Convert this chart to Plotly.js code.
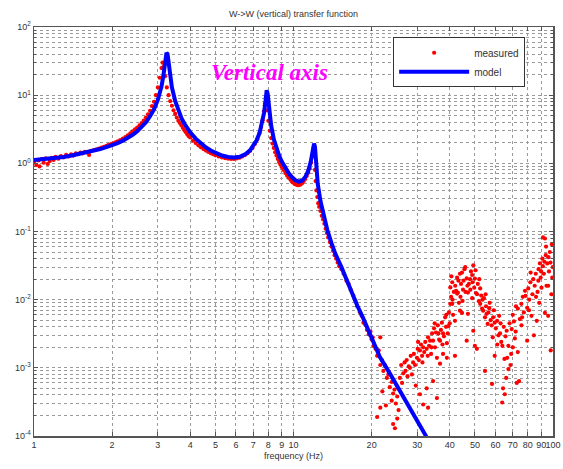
<!DOCTYPE html>
<html>
<head>
<meta charset="utf-8">
<script src="https://cdn.plot.ly/plotly-3.0.1.min.js"></script>
<style>html,body{margin:0;padding:0;background:#fff;}#chart{width:563px;height:469px;}</style>
</head>
<body>
<div id="chart"></div>
<script>
// ---- data ----
const modelFreq = [1.0,1.1,1.2,1.3,1.4,1.5,1.6,1.7,1.8,1.9,
  2.0,2.1,2.2,2.3,2.4,2.5,2.6,2.7,2.8,2.9,
  3.0,3.05,3.1,3.15,3.2,3.24,3.27,3.3,3.35,3.4,
  3.5,3.6,3.7,3.8,3.9,4.0,
  4.2,4.4,4.6,4.8,5.0,
  5.3,5.6,5.9,6.2,6.5,6.8,7.0,7.2,7.4,7.55,
  7.7,7.8,7.88,7.95,8.05,8.2,8.4,8.6,8.8,9.0,
  9.3,9.6,9.9,10.2,10.5,10.8,11.1,11.4,11.65,11.85,
  12.0,12.1,12.2,12.4,12.7,13.0,13.5,14.0,14.5,15.3,
  16.0,17.0,17.6,18.5,19.5,20.2,21.5,23.5,25.5,27.3,
  30.0,32.3,34.0];
const modelMag = [1.12,1.15,1.19,1.24,1.30,1.37,1.44,1.52,1.62,1.73,
  1.84,1.98,2.15,2.36,2.62,2.96,3.4,4.0,4.9,6.2,
  8.5,10.3,13.5,19,30,42,40,30,19,13,
  8.2,5.9,4.6,3.8,3.25,2.85,
  2.3,1.95,1.71,1.54,1.42,
  1.30,1.24,1.22,1.25,1.35,1.55,1.78,2.15,2.8,3.7,
  5.5,8,11.8,10.5,6.5,3.6,2.25,1.65,1.3,1.07,
  0.85,0.71,0.62,0.56,0.54,0.56,0.63,0.78,1.05,1.5,
  1.95,1.75,1.0,0.5,0.28,0.19,0.105,0.068,0.047,0.030,
  0.0195,0.0115,0.0082,0.0055,0.0035,0.0024,0.00145,0.00083,0.00049,0.00030,
  0.000165,0.000102,0.00007];

const measFreq = [
  1.00,1.02,1.04,1.05,1.07,1.09,1.11,1.13,1.15,1.17,
  1.19,1.21,1.24,1.27,1.30,1.33,1.36,1.39,1.42,1.45,
  1.48,1.51,1.54,1.57,1.60,1.63,1.66,1.70,1.74,1.78,
  1.82,1.86,1.90,1.94,1.98,2.02,2.06,2.10,2.15,2.20,
  2.25,2.30,2.35,2.40,2.45,2.50,2.55,2.60,2.65,2.70,
  2.75,2.80,2.85,2.90,2.95,3.00,3.05,3.10,3.13,3.16,
  3.20,3.25,3.30,3.35,3.40,3.45,3.50,3.55,3.60,3.65,
  3.70,3.75,3.80,3.85,3.90,3.95,4.00,4.10,4.20,4.30,
  4.40,4.50,4.60,4.70,4.80,4.90,5.00,5.15,5.30,5.45,
  5.60,5.75,5.90,6.05,6.20,6.35,6.50,6.65,6.80,6.95,
  7.10,7.25,7.40,7.50,7.60,7.70,7.76,7.82,7.87,7.92,
  8.00,8.10,8.20,8.30,8.40,8.50,8.60,8.70,8.80,8.90,
  9.00,9.15,9.30,9.45,9.60,9.75,9.90,10.05,10.2,10.35,
  10.5,10.65,10.8,10.95,11.1,11.25,11.4,11.55,11.7,11.8,
  11.9,11.97,12.03,12.1,12.17,12.25,12.35,12.45,12.55,12.7,
  12.85,13.0,13.15,13.3,13.45,13.6,13.8,14.0,14.2,14.4,
  14.6,14.8,15.0,
  15.3,15.6,16.0,16.3,16.6,17.0,17.3,17.6,18.0,18.3,
  18.6,18.9,19.2,19.5,19.8,20.0,20.2,20.4,20.7,21.0,
  21.3,21.6,21.6,21.6,21.9,22.2,22.5,22.9,23.2,23.5,
  23.9,23.9,24.2,24.2,24.5,24.8,25.1,25.1,25.4,24.6,
  21.0,22.0,22.7,
  25.7,26.0,26.2,26.5,26.8,27.0,27.3,27.5,27.8,28.1,
  28.3,28.6,28.9,29.1,29.4,29.6,29.9,30.1,30.4,30.7,
  30.7,31.0,31.3,31.6,31.6,31.9,32.2,32.6,32.6,33.0,
  33.0,33.3,33.6,33.9,34.2,34.5,34.5,34.8,35.1,35.4,
  35.7,35.7,36.0,36.4,36.7,36.7,37.0,37.3,37.7,37.7,
  38.0,38.4,38.7,39.0,39.0,39.3,39.7,40.0,40.2,40.2,
  40.5,40.9,40.9,41.2,41.5,41.9,41.9,42.3,42.7,42.7,
  43.0,43.4,43.8,43.8,44.2,44.6,44.6,44.8,45.2,45.6,
  46.0,46.5,46.5,47.0,47.0,47.4,47.9,48.3,48.8,48.8,
  49.3,49.3,49.7,50.0,50.0,50.5,50.9,51.3,51.8,52.4,
  52.4,52.9,53.3,53.8,54.2,54.7,54.7,55.2,55.5,56.0,
  56.4,57.0,57.5,58.0,58.2,58.6,59.1,59.6,59.6,60.2,
  60.9,61.6,62.0,62.5,63.2,63.7,63.8,64.2,64.6,65.0,
  65.2,65.6,66.0,66.6,67.3,67.3,68.0,68.6,69.3,70.0,
  70.0,70.7,71.3,72.0,72.5,73.2,73.2,74.0,74.5,75.5,
  75.6,76.5,77.2,78.0,78.4,79.5,79.5,80.3,81.0,81.8,
  82.6,83.3,83.9,84.4,85.0,85.8,86.6,87.2,88.0,88.5,
  89.0,89.6,90.3,91.0,91.4,91.5,92.2,93.1,93.1,93.8,
  94.4,95.0,95.8,95.8,96.5,97.2,98.0,98.6,99.3,99.8,
  30.2,31.4,32.9,34.0,35.0,36.2,37.5,38.8,39.5,40.6,
  41.0,42.0,43.2,44.0,45.0,45.9,46.8,48.0,49.0,50.3,
  51.0,52.0,53.5,55.0,56.8,58.8,61.0,62.8,66.3,69.0,
  71.8,76.0,80.8,82.0,86.0,87.8,90.0,92.6,94.0,96.0,
  97.8,99.0];
const measMag = [
  1.05,0.95,1.10,0.90,1.15,1.02,1.18,0.98,1.08,1.20,
  1.12,1.25,1.17,1.28,1.22,1.33,1.26,1.36,1.30,1.40,
  1.36,1.44,1.40,1.48,1.45,1.33,1.53,1.56,1.60,1.65,
  1.70,1.75,1.80,1.86,1.92,1.97,2.04,2.10,2.20,2.31,
  2.43,2.58,2.75,2.95,3.15,3.35,3.6,3.9,4.25,4.7,
  5.25,5.9,6.9,8.0,10,13,18,25,30,26,
  19,13,10,8.2,7.0,6.0,5.3,4.7,4.2,3.9,
  3.6,3.3,3.05,2.85,2.65,2.5,2.4,2.15,1.98,1.84,
  1.72,1.62,1.54,1.47,1.41,1.36,1.31,1.26,1.22,1.19,
  1.17,1.16,1.16,1.18,1.21,1.26,1.32,1.40,1.52,1.68,
  1.92,2.25,2.8,3.4,4.3,5.8,7.5,9.0,8.0,6.0,
  4.2,3.0,2.35,1.95,1.68,1.46,1.30,1.16,1.05,0.96,
  0.88,0.80,0.72,0.66,0.61,0.57,0.53,0.51,0.49,0.48,
  0.48,0.49,0.51,0.55,0.59,0.65,0.73,0.84,1.02,1.25,
  1.55,1.70,1.30,0.80,0.55,0.40,0.32,0.26,0.23,0.20,
  0.17,0.15,0.13,0.11,0.095,0.082,0.070,0.060,0.052,0.045,
  0.040,0.035,0.031,
  0.028,0.024,0.019,0.017,0.0140,0.0115,0.0098,0.0080,0.0066,0.0058,
  0.0046,0.0043,0.0036,0.0031,0.0034,0.0026,0.0028,0.0021,0.0019,0.0015,
  0.0018,0.0028,0.0011,0.00026,0.0013,0.00090,0.0011,0.00071,0.00080,0.00052,
  0.00062,0.00033,0.00042,0.00015,0.00048,0.00030,0.00038,0.00018,0.00024,0.00013,
  0.00019,0.00045,0.00028,
  7.1e-4,1.1e-3,6.0e-4,8.3e-4,1.2e-3,9.0e-4,1.3e-3,7.5e-4,1.05e-3,1.0e-3,
  1.5e-3,8.0e-4,1.2e-3,1.6e-3,1.1e-3,5.5e-4,1.4e-3,1.9e-3,1.3e-3,4.1e-4,
  1.8e-3,2.2e-3,1.5e-3,2.0e-3,2.9e-4,1.7e-3,2.4e-3,5.0e-4,1.9e-3,2.6e-4,
  2.8e-3,2.1e-3,2.5e-3,1.6e-3,3.2e-3,6.4e-4,2.5e-3,3.8e-3,2.0e-3,3.3e-3,
  1.4e-3,3.6e-4,4.2e-3,2.6e-3,2.5e-3,1.15e-3,3.6e-3,4.6e-3,1.6e-3,3.2e-3,
  2.9e-3,5.5e-3,4.0e-3,2.3e-3,1.4e-3,3.2e-3,6.5e-3,4.5e-3,0.0151,8.7e-3,
  0.011,8.7e-3,0.018,6.0e-3,0.013,4.9e-3,1.5e-3,0.0135,0.0123,0.021,
  0.0127,9.0e-3,0.024,6.9e-3,0.017,0.025,6.4e-3,9.6e-3,0.019,0.028,
  0.013,0.0205,2.5e-3,0.0127,6.2e-3,0.017,0.020,0.026,0.023,0.0105,
  0.032,3.5e-3,0.015,0.0204,2.1e-3,0.0125,1.9e-3,0.017,9.5e-3,0.0146,
  8.7e-3,0.0115,7.4e-3,6.9e-3,0.0105,9.0e-4,5.5e-3,8.0e-3,6.2e-3,4.4e-3,
  6.5e-3,9.0e-3,5.0e-3,4.2e-3,5.8e-4,2.8e-3,7.0e-3,4.6e-3,1.5e-3,3.8e-3,
  4.9e-3,3.0e-3,5.8e-3,3.2e-3,2.4e-3,3.1e-4,2.1e-3,5.0e-4,4.0e-3,1.35e-3,
  4.1e-4,2.9e-3,7.1e-4,1.4e-3,9.6e-4,2.1e-3,4.5e-3,1.1e-3,3.7e-3,2.0e-3,
  6.0e-3,4.8e-3,2.7e-3,8.0e-3,6.0e-4,7.4e-3,1.7e-3,6.4e-4,5.2e-3,8.7e-3,
  4.2e-3,0.011,6.5e-3,0.0135,0.0114,7.6e-3,2.5e-3,0.0146,0.010,0.018,
  5.8e-3,0.012,0.020,3.0e-3,0.016,0.024,4.9e-3,0.013,0.028,9.0e-3,
  0.034,0.021,0.015,0.040,0.031,0.082,0.024,0.079,6.4e-3,0.045,
  0.016,0.034,5.8e-3,0.016,0.026,0.050,1.8e-3,0.012,0.021,0.030,
  2.4e-3,1.2e-3,1.5e-3,2.0e-3,4.5e-3,3.2e-3,2.2e-3,6.0e-3,4.1e-3,0.022,
  0.010,0.016,0.019,0.011,0.014,0.030,0.016,0.014,0.018,0.027,
  0.012,0.020,0.010,0.012,7.5e-3,5.5e-3,2.2e-3,4.5e-3,3.5e-3,1.6e-3,
  3.4e-3,5.5e-3,7.0e-3,0.025,0.011,0.019,0.026,0.036,0.060,0.042,
  0.035,0.065];

const xTickVals = [1,2,3,4,5,6,7,8,9,10,20,30,40,50,60,70,80,90,100];
const xTickText = ['1','2','3','4','5','6','7','8','9','10','20','30','40','50','60','70','80','90','100'];
const yTickVals = [1e-4,1e-3,1e-2,1e-1,1,10,100];
const yTickText = ['10<sup>-4</sup>','10<sup>-3</sup>','10<sup>-2</sup>','10<sup>-1</sup>','10<sup>0</sup>','10<sup>1</sup>','10<sup>2</sup>'];
const chartTitle = 'W-&gt;W (vertical) transfer function';
const xTitle = 'frequency (Hz)';
const noteText = 'Vertical axis';
const seriesNames = ['measured','model'];

// minor grid positions (2..9 within each decade) on the y axis
const yMinor = [];
for (let e = -4; e < 2; e++) for (let d = 2; d <= 9; d++) yMinor.push(d * Math.pow(10, e));

const gridCol = '#9a9a9a';
const sans = 'Liberation Sans, Arial, sans-serif';
const tickFont = {family: sans, size: 9, color: '#333'};

const traces = [
  {x: measFreq, y: measMag, type: 'scatter', mode: 'markers', name: seriesNames[0],
   marker: {color: '#ff0000', size: 4.2}},
  {x: modelFreq, y: modelMag, type: 'scatter', mode: 'lines', name: seriesNames[1],
   line: {color: '#0000ff', width: 4}}
];

const layout = {
  width: 563, height: 469,
  margin: {l: 34, r: 10, t: 27, b: 33},
  paper_bgcolor: '#fff', plot_bgcolor: '#fff',
  showlegend: true,
  title: {text: chartTitle, font: {family: sans, size: 9, color: '#333'},
          xref: 'paper', x: 0.5, xanchor: 'center', yref: 'container', y: 0.97, yanchor: 'middle'},
  xaxis: {type: 'log', range: [0, 2], tickvals: xTickVals, ticktext: xTickText, tickangle: 0,
          showgrid: true, gridcolor: gridCol, griddash: 'dot', gridwidth: 1,
          ticks: 'inside', ticklen: 4, tickcolor: '#555',
          showline: true, mirror: 'ticks', linecolor: '#555', linewidth: 1.5, zeroline: false,
          tickfont: tickFont,
          title: {text: xTitle, font: {family: sans, size: 9, color: '#333'}, standoff: 3}},
  yaxis: {type: 'log', range: [-4, 2], tickvals: yTickVals, ticktext: yTickText,
          showgrid: true, gridcolor: gridCol, griddash: 'dot', gridwidth: 1,
          ticks: 'inside', ticklen: 4, tickcolor: '#555',
          showline: true, mirror: 'ticks', linecolor: '#555', linewidth: 1.5, zeroline: false,
          tickfont: tickFont,
          minor: {tickvals: yMinor, showgrid: true, gridcolor: gridCol, griddash: 'dot', gridwidth: 1,
                  ticks: 'inside', ticklen: 2, tickcolor: '#555'}},
  legend: {x: 0.692, y: 0.975, xanchor: 'left', yanchor: 'top', bgcolor: '#fff',
           bordercolor: '#333', borderwidth: 1, itemwidth: 70, tracegroupgap: 0,
           font: {family: sans, size: 10, color: '#333'}},
  annotations: [{text: '<b><i>' + noteText + '</i></b>', xref: 'paper', yref: 'paper',
                 x: 0.337, y: 0.888, xanchor: 'left', yanchor: 'middle', showarrow: false,
                 font: {family: 'Liberation Serif, Times New Roman, serif', size: 23, color: '#ff00ff'}}]
};

Plotly.newPlot('chart', traces, layout, {staticPlot: true, displayModeBar: false});
</script>
</body>
</html>
